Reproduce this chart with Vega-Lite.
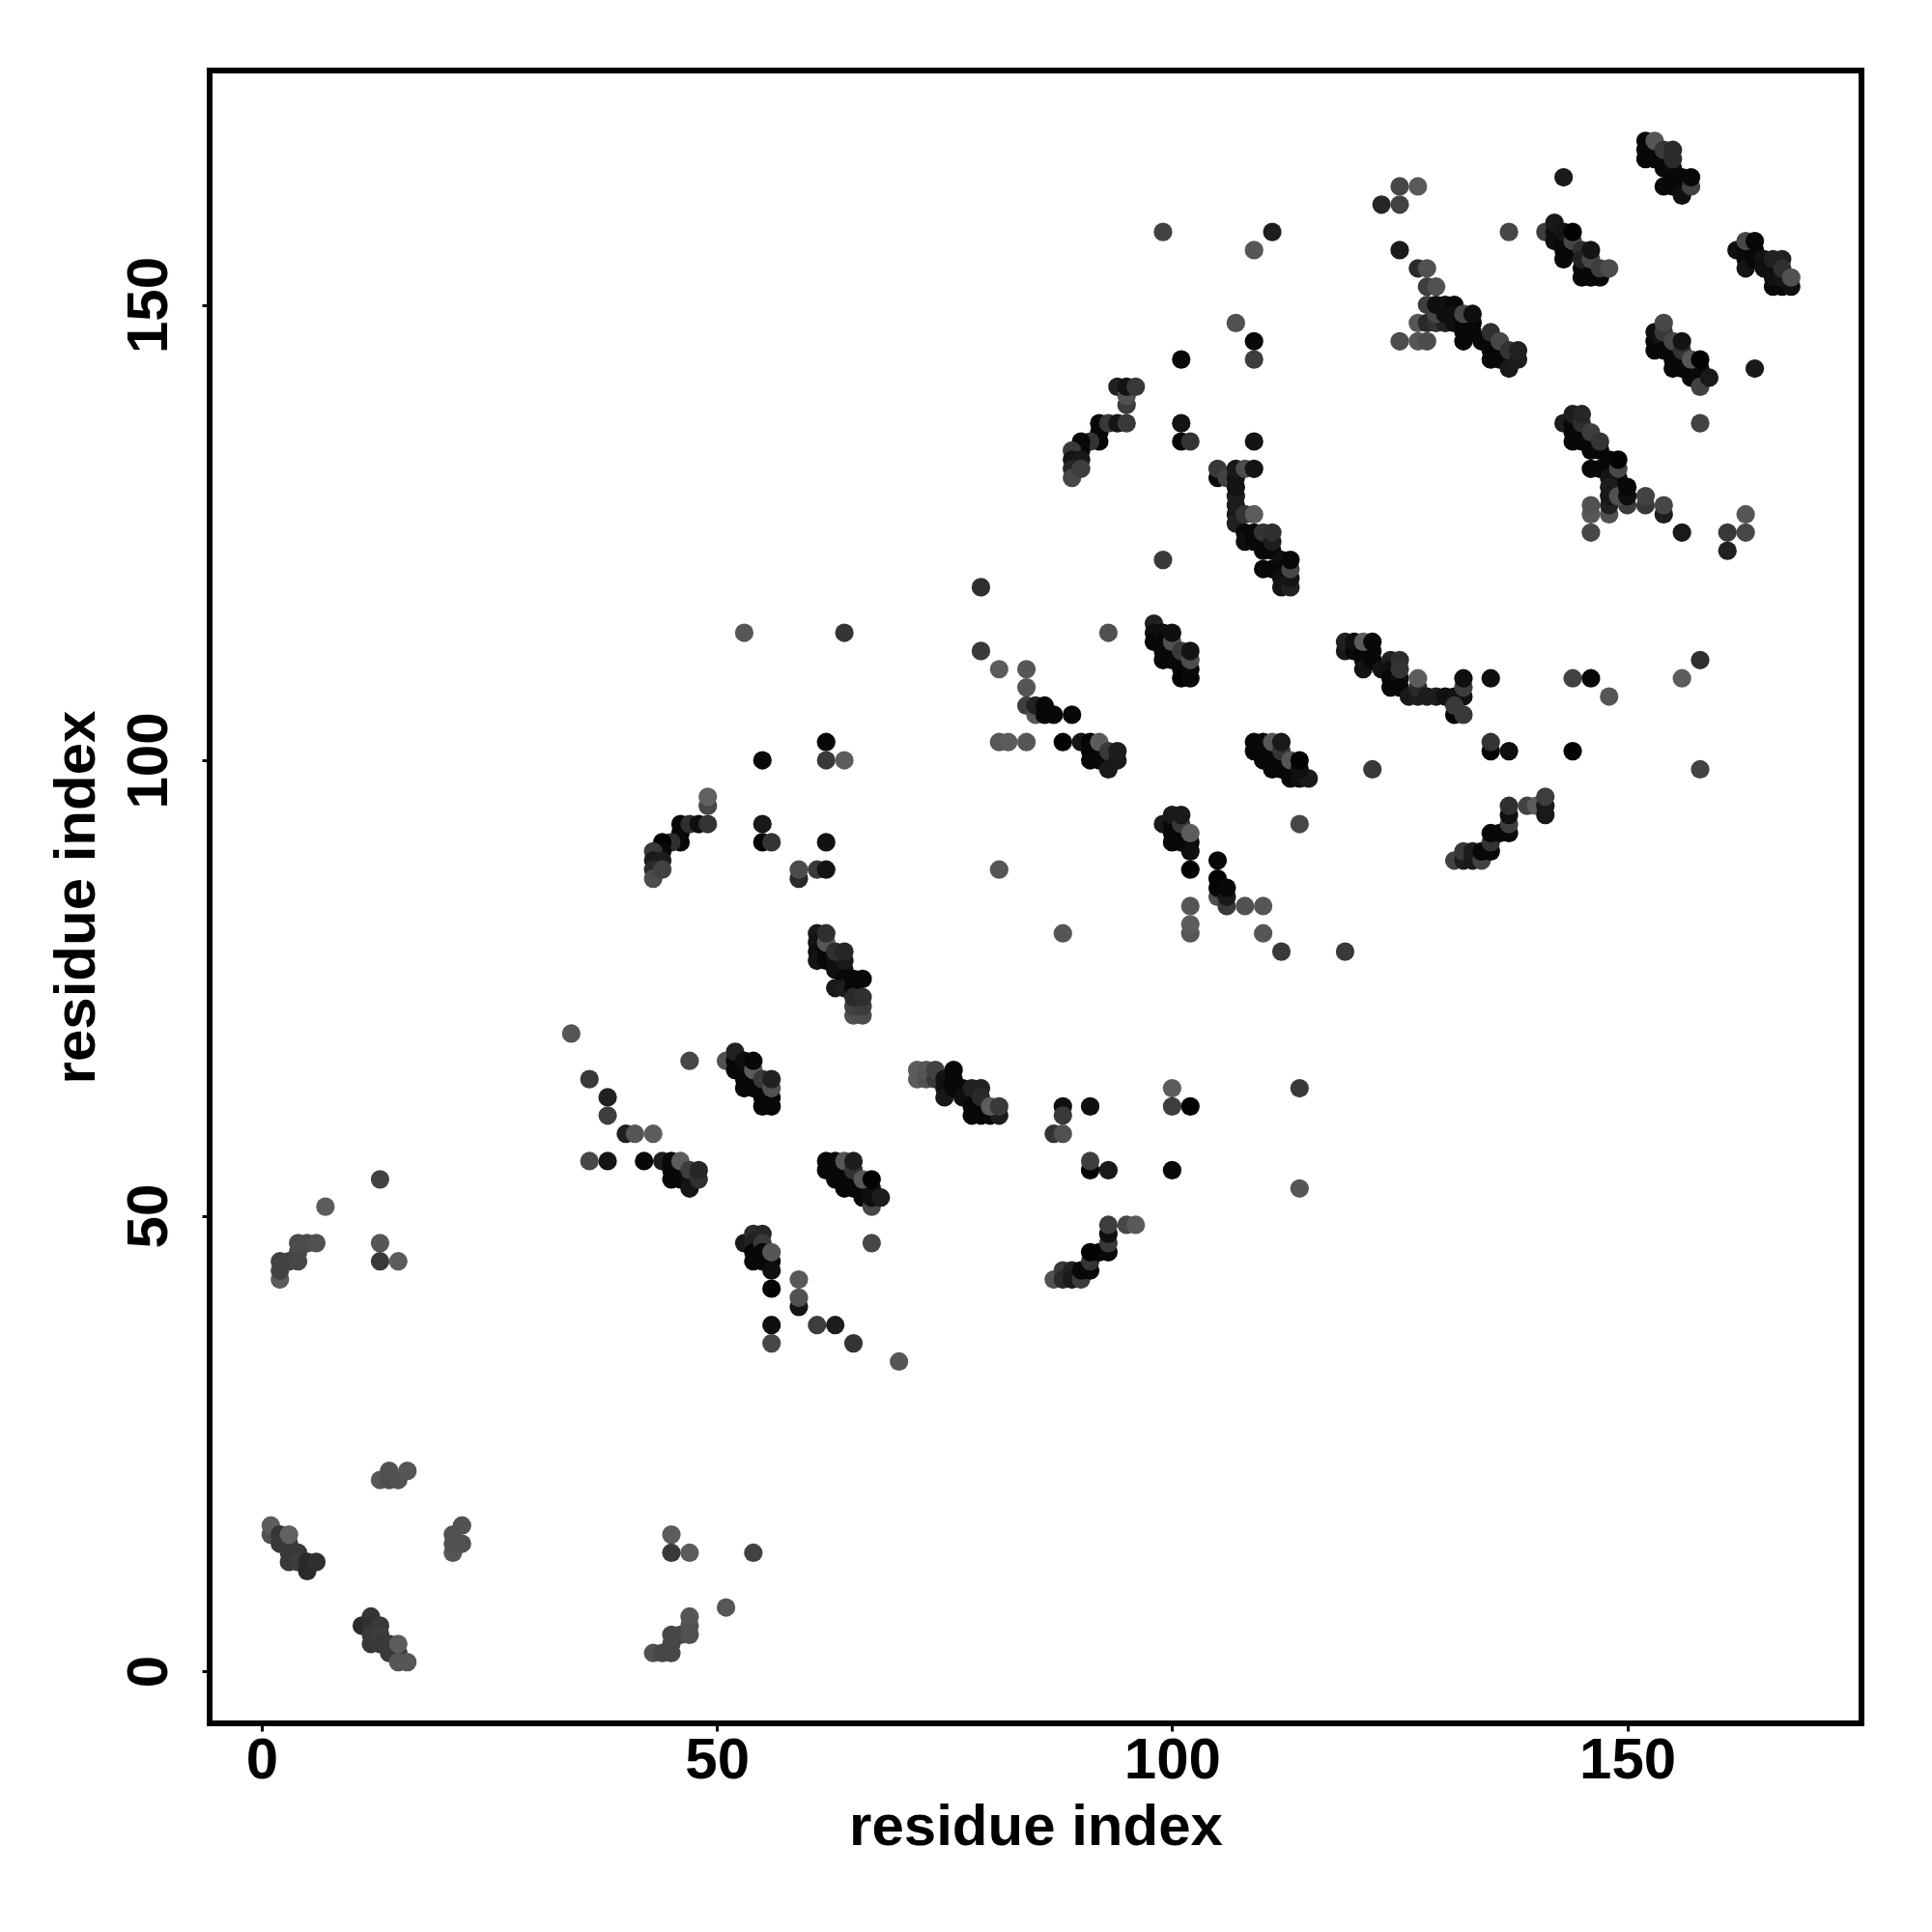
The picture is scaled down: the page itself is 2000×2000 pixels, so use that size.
{"$schema":"https://vega.github.io/schema/vega-lite/v6.json","width":1710,"height":1711,"autosize":{"type":"none"},"padding":{"left":217,"top":73,"right":73,"bottom":216},"background":"white",
"view":{"stroke":"black","strokeWidth":6,"fill":"white"},
"config":{"font":"Liberation Sans"},
"data":{"values":[
{"i":7,"j":51,"p":0.1},{"i":13,"j":54,"p":0.35},{"i":13,"j":47,"p":0.15},{"i":13,"j":45,"p":0.45},{"i":15,"j":45,"p":0.1},
{"i":2,"j":43,"p":0.1},{"i":2,"j":44,"p":0.35},{"i":2,"j":45,"p":0.35},{"i":3,"j":45,"p":0.35},{"i":4,"j":45,"p":0.3},{"i":4,"j":46,"p":0.3},{"i":4,"j":47,"p":0.25},{"i":5,"j":47,"p":0.25},{"i":6,"j":47,"p":0.2},
{"i":13,"j":21,"p":0.15},{"i":14,"j":21,"p":0.25},{"i":15,"j":21,"p":0.2},{"i":14,"j":22,"p":0.2},{"i":16,"j":22,"p":0.15},
{"i":1,"j":15,"p":0.2},{"i":1,"j":16,"p":0.1},{"i":2,"j":15,"p":0.5},{"i":2,"j":14,"p":0.45},{"i":3,"j":14,"p":0.45},{"i":3,"j":13,"p":0.45},{"i":3,"j":12,"p":0.45},{"i":4,"j":13,"p":0.45},{"i":4,"j":12,"p":0.4},{"i":5,"j":12,"p":0.6},{"i":5,"j":11,"p":0.6},{"i":6,"j":12,"p":0.55},{"i":3,"j":15,"p":0.05},
{"i":21,"j":13,"p":0.15},{"i":21,"j":14,"p":0.2},{"i":21,"j":15,"p":0.2},{"i":22,"j":14,"p":0.2},{"i":22,"j":16,"p":0.2},
{"i":45,"j":15,"p":0.1},{"i":45,"j":13,"p":0.45},{"i":47,"j":13,"p":0.1},{"i":54,"j":13,"p":0.35},{"i":51,"j":7,"p":0.15},
{"i":11,"j":5,"p":0.6},{"i":12,"j":6,"p":0.5},{"i":12,"j":5,"p":0.55},{"i":12,"j":4,"p":0.45},{"i":12,"j":3,"p":0.45},{"i":13,"j":5,"p":0.45},{"i":13,"j":4,"p":0.4},{"i":13,"j":3,"p":0.45},{"i":14,"j":3,"p":0.45},{"i":14,"j":2,"p":0.45},{"i":15,"j":2,"p":0.45},{"i":15,"j":1,"p":0.15},{"i":16,"j":1,"p":0.15},{"i":15,"j":3,"p":0.1},
{"i":43,"j":2,"p":0.2},{"i":44,"j":2,"p":0.3},{"i":45,"j":2,"p":0.3},{"i":45,"j":3,"p":0.3},{"i":45,"j":4,"p":0.3},{"i":46,"j":4,"p":0.3},{"i":47,"j":4,"p":0.2},{"i":47,"j":5,"p":0.2},{"i":47,"j":6,"p":0.15},
{"i":34,"j":70,"p":0.15},{"i":36,"j":65,"p":0.45},{"i":38,"j":63,"p":0.7},{"i":38,"j":61,"p":0.4},{"i":40,"j":59,"p":0.7},{"i":41,"j":59,"p":0.15},{"i":43,"j":59,"p":0.1},{"i":47,"j":67,"p":0.3},
{"i":36,"j":56,"p":0.3},{"i":38,"j":56,"p":0.85},{"i":42,"j":56,"p":0.95},{"i":44,"j":56,"p":0.75},{"i":45,"j":56,"p":0.95},{"i":45,"j":55,"p":0.95},{"i":45,"j":54,"p":0.95},{"i":46,"j":55,"p":0.95},{"i":46,"j":54,"p":0.95},{"i":47,"j":54,"p":0.9},{"i":47,"j":53,"p":0.85},{"i":46,"j":56,"p":0.1},{"i":47,"j":55,"p":0.4},{"i":48,"j":54,"p":0.55},{"i":48,"j":55,"p":0.65},
{"i":51,"j":67,"p":0.2},{"i":52,"j":67,"p":0.95},{"i":52,"j":66,"p":0.95},{"i":53,"j":66,"p":0.95},{"i":53,"j":65,"p":0.95},{"i":53,"j":64,"p":0.95},{"i":54,"j":65,"p":0.95},{"i":54,"j":64,"p":0.95},{"i":55,"j":64,"p":0.95},{"i":55,"j":63,"p":0.95},{"i":55,"j":62,"p":0.95},{"i":56,"j":63,"p":0.95},{"i":56,"j":62,"p":0.95},{"i":52,"j":68,"p":0.7},{"i":53,"j":67,"p":0.9},{"i":54,"j":66,"p":0.1},{"i":55,"j":65,"p":0.45},{"i":56,"j":64,"p":0.2},{"i":54,"j":67,"p":0.95},{"i":56,"j":65,"p":0.7},
{"i":72,"j":65,"p":0.1},{"i":72,"j":66,"p":0.1},{"i":73,"j":65,"p":0.2},{"i":73,"j":66,"p":0.15},{"i":74,"j":65,"p":0.45},{"i":74,"j":66,"p":0.35},{"i":75,"j":65,"p":0.85},{"i":75,"j":64,"p":0.9},{"i":75,"j":63,"p":0.8},{"i":76,"j":66,"p":0.95},{"i":76,"j":65,"p":0.95},{"i":76,"j":64,"p":0.95},{"i":77,"j":64,"p":0.95},{"i":77,"j":63,"p":0.9},{"i":78,"j":63,"p":0.9},{"i":78,"j":62,"p":0.95},{"i":78,"j":61,"p":0.95},{"i":79,"j":62,"p":0.95},{"i":79,"j":61,"p":0.95},{"i":80,"j":61,"p":0.95},{"i":78,"j":64,"p":0.7},{"i":79,"j":64,"p":0.7},{"i":79,"j":63,"p":0.6},{"i":81,"j":61,"p":0.75},{"i":80,"j":62,"p":0.1},{"i":81,"j":62,"p":0.45},
{"i":53,"j":47,"p":0.8},{"i":54,"j":48,"p":0.6},{"i":55,"j":48,"p":0.65},{"i":54,"j":47,"p":0.7},{"i":54,"j":46,"p":0.95},{"i":54,"j":45,"p":0.95},{"i":55,"j":47,"p":0.45},{"i":55,"j":46,"p":0.95},{"i":55,"j":45,"p":0.95},{"i":56,"j":45,"p":0.95},{"i":56,"j":44,"p":0.9},{"i":56,"j":46,"p":0.15},{"i":56,"j":42,"p":0.98},
{"i":59,"j":43,"p":0.12},{"i":59,"j":40,"p":0.85},{"i":59,"j":41,"p":0.2},{"i":56,"j":38,"p":0.9},{"i":56,"j":36,"p":0.3},{"i":61,"j":38,"p":0.4},{"i":63,"j":38,"p":0.75},{"i":65,"j":36,"p":0.5},{"i":70,"j":34,"p":0.15},
{"i":62,"j":56,"p":0.95},{"i":63,"j":56,"p":0.95},{"i":62,"j":55,"p":0.95},{"i":63,"j":55,"p":0.95},{"i":63,"j":54,"p":0.95},{"i":64,"j":55,"p":0.95},{"i":64,"j":54,"p":0.95},{"i":64,"j":53,"p":0.95},{"i":65,"j":54,"p":0.95},{"i":65,"j":53,"p":0.95},{"i":66,"j":53,"p":0.95},{"i":66,"j":52,"p":0.95},{"i":67,"j":53,"p":0.9},{"i":67,"j":51,"p":0.3},{"i":67,"j":52,"p":0.9},{"i":64,"j":56,"p":0.15},{"i":65,"j":55,"p":0.5},{"i":65,"j":56,"p":0.75},{"i":66,"j":54,"p":0.15},{"i":67,"j":54,"p":0.98},{"i":68,"j":52,"p":0.75},{"i":67,"j":47,"p":0.3},
{"i":88,"j":62,"p":0.9},{"i":88,"j":61,"p":0.45},{"i":87,"j":59,"p":0.5},{"i":88,"j":59,"p":0.2},{"i":91,"j":62,"p":0.9},{"i":91,"j":55,"p":0.98},{"i":91,"j":56,"p":0.4},{"i":93,"j":55,"p":0.8},{"i":100,"j":55,"p":0.95},{"i":100,"j":64,"p":0.1},{"i":100,"j":62,"p":0.4},{"i":102,"j":62,"p":0.98},{"i":114,"j":64,"p":0.45},{"i":114,"j":53,"p":0.15},
{"i":87,"j":43,"p":0.2},{"i":88,"j":44,"p":0.45},{"i":88,"j":43,"p":0.6},{"i":89,"j":44,"p":0.7},{"i":89,"j":43,"p":0.8},{"i":90,"j":43,"p":0.4},{"i":90,"j":44,"p":0.95},{"i":91,"j":44,"p":0.95},{"i":91,"j":45,"p":0.5},{"i":93,"j":46,"p":0.95},{"i":92,"j":46,"p":0.95},{"i":91,"j":46,"p":0.98},{"i":93,"j":47,"p":0.45},{"i":93,"j":48,"p":0.9},{"i":93,"j":49,"p":0.4},{"i":95,"j":49,"p":0.3},{"i":96,"j":49,"p":0.12},
{"i":55,"j":100,"p":0.95},{"i":62,"j":102,"p":0.95},{"i":62,"j":100,"p":0.45},{"i":64,"j":100,"p":0.1},{"i":81,"j":102,"p":0.15},{"i":82,"j":102,"p":0.1},
{"i":49,"j":95,"p":0.3},{"i":49,"j":96,"p":0.05},{"i":46,"j":91,"p":0.95},{"i":46,"j":92,"p":0.95},{"i":46,"j":93,"p":0.95},{"i":47,"j":93,"p":0.55},{"i":48,"j":93,"p":0.9},{"i":49,"j":93,"p":0.5},{"i":45,"j":91,"p":0.55},{"i":44,"j":91,"p":0.98},{"i":44,"j":90,"p":0.95},{"i":43,"j":90,"p":0.45},{"i":43,"j":89,"p":0.8},{"i":44,"j":89,"p":0.75},{"i":43,"j":88,"p":0.6},{"i":43,"j":87,"p":0.25},{"i":44,"j":88,"p":0.35},
{"i":55,"j":93,"p":0.8},{"i":55,"j":91,"p":0.98},{"i":56,"j":91,"p":0.5},{"i":62,"j":91,"p":0.88},{"i":59,"j":87,"p":0.6},{"i":59,"j":88,"p":0.25},{"i":61,"j":88,"p":0.45},{"i":62,"j":88,"p":0.85},{"i":81,"j":88,"p":0.15},
{"i":61,"j":81,"p":0.8},{"i":61,"j":80,"p":0.85},{"i":61,"j":79,"p":0.9},{"i":61,"j":78,"p":0.85},{"i":62,"j":79,"p":0.95},{"i":62,"j":78,"p":0.95},{"i":63,"j":78,"p":0.9},{"i":63,"j":77,"p":0.9},{"i":64,"j":77,"p":0.9},{"i":64,"j":78,"p":0.8},{"i":64,"j":76,"p":0.95},{"i":63,"j":75,"p":0.8},{"i":64,"j":75,"p":0.75},{"i":65,"j":76,"p":0.95},{"i":65,"j":75,"p":0.95},{"i":66,"j":76,"p":0.95},{"i":65,"j":72,"p":0.2},{"i":66,"j":72,"p":0.25},{"i":65,"j":73,"p":0.35},{"i":66,"j":73,"p":0.4},{"i":65,"j":74,"p":0.6},{"i":66,"j":74,"p":0.55},{"i":62,"j":80,"p":0.15},{"i":62,"j":81,"p":0.55},{"i":63,"j":79,"p":0.55},{"i":64,"j":79,"p":0.65},
{"i":79,"j":112,"p":0.45},{"i":79,"j":119,"p":0.55},{"i":81,"j":110,"p":0.1},{"i":84,"j":110,"p":0.15},{"i":84,"j":108,"p":0.15},{"i":84,"j":106,"p":0.4},{"i":85,"j":105,"p":0.15},{"i":85,"j":106,"p":0.7},{"i":86,"j":106,"p":0.95},{"i":86,"j":105,"p":0.95},{"i":87,"j":105,"p":0.95},{"i":89,"j":105,"p":0.95},{"i":93,"j":114,"p":0.2},{"i":53,"j":114,"p":0.15},{"i":64,"j":114,"p":0.5},
{"i":84,"j":102,"p":0.15},{"i":88,"j":102,"p":0.98},{"i":90,"j":102,"p":0.85},{"i":91,"j":102,"p":0.98},{"i":91,"j":101,"p":0.95},{"i":91,"j":100,"p":0.95},{"i":92,"j":101,"p":0.95},{"i":92,"j":100,"p":0.95},{"i":93,"j":100,"p":0.95},{"i":93,"j":99,"p":0.8},{"i":92,"j":102,"p":0.1},{"i":93,"j":101,"p":0.45},{"i":94,"j":100,"p":0.8},{"i":94,"j":101,"p":0.75},
{"i":98,"j":115,"p":0.7},{"i":98,"j":114,"p":0.9},{"i":98,"j":113,"p":0.95},{"i":99,"j":114,"p":0.9},{"i":99,"j":113,"p":0.95},{"i":99,"j":112,"p":0.95},{"i":99,"j":111,"p":0.95},{"i":100,"j":112,"p":0.95},{"i":100,"j":111,"p":0.95},{"i":101,"j":110,"p":0.95},{"i":101,"j":109,"p":0.98},{"i":102,"j":109,"p":0.95},{"i":102,"j":110,"p":0.95},{"i":100,"j":113,"p":0.2},{"i":101,"j":112,"p":0.45},{"i":102,"j":111,"p":0.25},{"i":100,"j":114,"p":0.9},{"i":102,"j":112,"p":0.85},
{"i":109,"j":102,"p":0.95},{"i":110,"j":102,"p":0.95},{"i":109,"j":101,"p":0.95},{"i":110,"j":101,"p":0.95},{"i":110,"j":100,"p":0.95},{"i":111,"j":101,"p":0.95},{"i":111,"j":100,"p":0.95},{"i":111,"j":99,"p":0.95},{"i":112,"j":100,"p":0.95},{"i":112,"j":99,"p":0.95},{"i":113,"j":99,"p":0.95},{"i":113,"j":98,"p":0.95},{"i":114,"j":98,"p":0.9},{"i":115,"j":98,"p":0.8},{"i":111,"j":102,"p":0.15},{"i":112,"j":101,"p":0.5},{"i":113,"j":100,"p":0.15},{"i":112,"j":102,"p":0.8},{"i":114,"j":99,"p":0.9},{"i":114,"j":100,"p":0.98},{"i":114,"j":93,"p":0.3},
{"i":99,"j":93,"p":0.8},{"i":100,"j":93,"p":0.95},{"i":100,"j":92,"p":0.95},{"i":100,"j":91,"p":0.95},{"i":101,"j":92,"p":0.95},{"i":101,"j":91,"p":0.95},{"i":102,"j":91,"p":0.95},{"i":102,"j":90,"p":0.9},{"i":100,"j":94,"p":0.8},{"i":101,"j":93,"p":0.45},{"i":101,"j":94,"p":0.8},{"i":102,"j":92,"p":0.1},{"i":102,"j":88,"p":0.98},
{"i":105,"j":89,"p":0.95},{"i":105,"j":85,"p":0.2},{"i":105,"j":86,"p":0.95},{"i":105,"j":87,"p":0.98},{"i":106,"j":84,"p":0.45},{"i":106,"j":85,"p":0.8},{"i":106,"j":86,"p":0.95},{"i":108,"j":84,"p":0.2},{"i":110,"j":84,"p":0.15},{"i":102,"j":84,"p":0.15},{"i":102,"j":81,"p":0.15},{"i":102,"j":82,"p":0.1},{"i":110,"j":81,"p":0.15},{"i":112,"j":79,"p":0.45},{"i":119,"j":79,"p":0.45},{"i":88,"j":81,"p":0.15},
{"i":119,"j":112,"p":0.8},{"i":119,"j":113,"p":0.7},{"i":120,"j":112,"p":0.95},{"i":120,"j":113,"p":0.9},{"i":121,"j":111,"p":0.95},{"i":121,"j":110,"p":0.85},{"i":121,"j":112,"p":0.95},{"i":122,"j":111,"p":0.95},{"i":122,"j":112,"p":0.95},{"i":123,"j":110,"p":0.85},{"i":124,"j":111,"p":0.7},{"i":124,"j":110,"p":0.9},{"i":124,"j":109,"p":0.95},{"i":124,"j":108,"p":0.95},{"i":125,"j":109,"p":0.9},{"i":125,"j":108,"p":0.95},{"i":126,"j":107,"p":0.8},{"i":127,"j":107,"p":0.75},{"i":127,"j":108,"p":0.6},{"i":128,"j":107,"p":0.75},{"i":129,"j":107,"p":0.75},{"i":130,"j":107,"p":0.88},{"i":131,"j":107,"p":0.88},{"i":132,"j":107,"p":0.88},{"i":121,"j":113,"p":0.1},{"i":122,"j":113,"p":0.95},{"i":125,"j":111,"p":0.55},{"i":125,"j":110,"p":0.5},{"i":127,"j":109,"p":0.1},{"i":132,"j":108,"p":0.4},{"i":132,"j":109,"p":0.9},{"i":131,"j":105,"p":0.98},{"i":131,"j":106,"p":0.45},{"i":132,"j":105,"p":0.45},
{"i":135,"j":109,"p":0.9},{"i":144,"j":109,"p":0.35},{"i":146,"j":109,"p":0.95},{"i":148,"j":107,"p":0.15},{"i":156,"j":109,"p":0.1},{"i":158,"j":111,"p":0.55},{"i":158,"j":99,"p":0.35},{"i":122,"j":99,"p":0.45},{"i":135,"j":101,"p":0.98},{"i":135,"j":102,"p":0.5},{"i":137,"j":101,"p":0.9},{"i":144,"j":101,"p":0.98},
{"i":131,"j":89,"p":0.35},{"i":132,"j":89,"p":0.75},{"i":132,"j":90,"p":0.45},{"i":133,"j":89,"p":0.8},{"i":133,"j":90,"p":0.75},{"i":134,"j":89,"p":0.35},{"i":134,"j":90,"p":0.95},{"i":135,"j":90,"p":0.95},{"i":135,"j":91,"p":0.5},{"i":135,"j":92,"p":0.95},{"i":136,"j":92,"p":0.95},{"i":137,"j":92,"p":0.95},{"i":137,"j":93,"p":0.4},{"i":137,"j":94,"p":0.9},{"i":137,"j":95,"p":0.55},{"i":139,"j":95,"p":0.35},{"i":140,"j":95,"p":0.1},{"i":141,"j":94,"p":0.8},{"i":141,"j":95,"p":0.8},{"i":141,"j":96,"p":0.4},
{"i":94,"j":141,"p":0.7},{"i":95,"j":139,"p":0.4},{"i":95,"j":140,"p":0.2},{"i":95,"j":141,"p":0.85},{"i":96,"j":141,"p":0.45},{"i":92,"j":135,"p":0.95},{"i":92,"j":136,"p":0.95},{"i":92,"j":137,"p":0.95},{"i":93,"j":137,"p":0.45},{"i":94,"j":137,"p":0.85},{"i":95,"j":137,"p":0.45},{"i":91,"j":135,"p":0.5},{"i":90,"j":135,"p":0.95},{"i":90,"j":134,"p":0.95},{"i":89,"j":134,"p":0.45},{"i":89,"j":133,"p":0.85},{"i":90,"j":133,"p":0.8},{"i":89,"j":132,"p":0.65},{"i":89,"j":131,"p":0.3},{"i":90,"j":132,"p":0.4},
{"i":101,"j":137,"p":0.85},{"i":101,"j":135,"p":0.95},{"i":102,"j":135,"p":0.5},{"i":101,"j":144,"p":0.95},{"i":109,"j":135,"p":0.85},{"i":99,"j":122,"p":0.45},{"i":105,"j":131,"p":0.95},{"i":105,"j":132,"p":0.45},{"i":106,"j":131,"p":0.35},{"i":107,"j":127,"p":0.8},{"i":107,"j":126,"p":0.7},{"i":107,"j":128,"p":0.75},{"i":107,"j":129,"p":0.75},{"i":107,"j":130,"p":0.85},{"i":107,"j":131,"p":0.85},{"i":107,"j":132,"p":0.8},{"i":108,"j":132,"p":0.25},{"i":109,"j":132,"p":0.85},{"i":108,"j":127,"p":0.5},{"i":109,"j":127,"p":0.1},
{"i":108,"j":125,"p":0.95},{"i":108,"j":124,"p":0.9},{"i":109,"j":125,"p":0.95},{"i":109,"j":124,"p":0.95},{"i":110,"j":125,"p":0.5},{"i":110,"j":123,"p":0.95},{"i":110,"j":121,"p":0.95},{"i":111,"j":123,"p":0.95},{"i":111,"j":121,"p":0.95},{"i":112,"j":122,"p":0.9},{"i":112,"j":121,"p":0.95},{"i":112,"j":120,"p":0.9},{"i":112,"j":119,"p":0.85},{"i":113,"j":119,"p":0.7},{"i":113,"j":120,"p":0.85},{"i":111,"j":124,"p":0.75},{"i":111,"j":125,"p":0.55},{"i":113,"j":121,"p":0.3},{"i":113,"j":122,"p":0.95},
{"i":109,"j":146,"p":0.95},{"i":109,"j":144,"p":0.4},{"i":107,"j":148,"p":0.2},{"i":99,"j":158,"p":0.35},{"i":109,"j":156,"p":0.15},{"i":111,"j":158,"p":0.75},
{"i":143,"j":164,"p":0.8},{"i":125,"j":163,"p":0.3},{"i":127,"j":163,"p":0.12},{"i":123,"j":161,"p":0.65},{"i":125,"j":161,"p":0.35},{"i":137,"j":158,"p":0.3},{"i":125,"j":156,"p":0.8},
{"i":127,"j":154,"p":0.6},{"i":128,"j":154,"p":0.2},{"i":128,"j":152,"p":0.4},{"i":129,"j":152,"p":0.2},{"i":128,"j":150,"p":0.4},{"i":127,"j":148,"p":0.15},{"i":128,"j":148,"p":0.6},{"i":125,"j":146,"p":0.25},{"i":127,"j":146,"p":0.15},{"i":128,"j":146,"p":0.25},{"i":129,"j":148,"p":0.5},{"i":130,"j":148,"p":0.7},{"i":129,"j":149,"p":0.3},{"i":129,"j":150,"p":0.9},{"i":130,"j":149,"p":0.9},{"i":130,"j":150,"p":0.9},{"i":131,"j":150,"p":0.95},{"i":131,"j":149,"p":0.9},{"i":131,"j":148,"p":0.9},{"i":132,"j":148,"p":0.95},{"i":132,"j":147,"p":0.95},{"i":132,"j":146,"p":0.95},{"i":133,"j":148,"p":0.95},{"i":133,"j":147,"p":0.95},{"i":134,"j":146,"p":0.95},{"i":135,"j":145,"p":0.95},{"i":135,"j":144,"p":0.95},{"i":136,"j":145,"p":0.95},{"i":136,"j":144,"p":0.95},{"i":137,"j":144,"p":0.95},{"i":137,"j":143,"p":0.8},{"i":132,"j":149,"p":0.3},{"i":133,"j":149,"p":0.9},{"i":135,"j":147,"p":0.55},{"i":136,"j":146,"p":0.3},{"i":137,"j":145,"p":0.5},{"i":138,"j":144,"p":0.75},{"i":138,"j":145,"p":0.7},
{"i":141,"j":158,"p":0.4},{"i":142,"j":158,"p":0.9},{"i":142,"j":157,"p":0.9},{"i":143,"j":157,"p":0.95},{"i":143,"j":156,"p":0.95},{"i":143,"j":155,"p":0.95},{"i":144,"j":156,"p":0.95},{"i":145,"j":154,"p":0.95},{"i":145,"j":153,"p":0.95},{"i":146,"j":153,"p":0.95},{"i":147,"j":153,"p":0.95},{"i":142,"j":159,"p":0.8},{"i":143,"j":158,"p":0.85},{"i":144,"j":157,"p":0.3},{"i":144,"j":158,"p":0.98},{"i":145,"j":156,"p":0.55},{"i":145,"j":155,"p":0.7},{"i":146,"j":155,"p":0.3},{"i":146,"j":156,"p":0.85},{"i":147,"j":154,"p":0.4},{"i":148,"j":154,"p":0.25},
{"i":152,"j":166,"p":0.95},{"i":152,"j":167,"p":0.95},{"i":152,"j":168,"p":0.95},{"i":153,"j":167,"p":0.95},{"i":153,"j":166,"p":0.95},{"i":154,"j":166,"p":0.95},{"i":154,"j":165,"p":0.95},{"i":155,"j":165,"p":0.9},{"i":155,"j":164,"p":0.95},{"i":155,"j":163,"p":0.95},{"i":154,"j":163,"p":0.95},{"i":156,"j":164,"p":0.95},{"i":156,"j":163,"p":0.95},{"i":156,"j":162,"p":0.9},{"i":153,"j":168,"p":0.15},{"i":154,"j":167,"p":0.45},{"i":155,"j":167,"p":0.6},{"i":155,"j":166,"p":0.6},{"i":157,"j":163,"p":0.35},{"i":157,"j":164,"p":0.95},
{"i":162,"j":156,"p":0.9},{"i":163,"j":156,"p":0.95},{"i":163,"j":155,"p":0.95},{"i":163,"j":154,"p":0.85},{"i":164,"j":156,"p":0.95},{"i":164,"j":155,"p":0.95},{"i":165,"j":155,"p":0.85},{"i":165,"j":154,"p":0.9},{"i":166,"j":152,"p":0.95},{"i":167,"j":152,"p":0.95},{"i":168,"j":152,"p":0.9},{"i":166,"j":153,"p":0.9},{"i":167,"j":153,"p":0.85},{"i":163,"j":157,"p":0.3},{"i":164,"j":157,"p":0.95},{"i":166,"j":155,"p":0.7},{"i":167,"j":155,"p":0.7},{"i":167,"j":154,"p":0.55},{"i":168,"j":153,"p":0.2},
{"i":153,"j":145,"p":0.95},{"i":153,"j":146,"p":0.95},{"i":153,"j":147,"p":0.9},{"i":154,"j":146,"p":0.85},{"i":154,"j":145,"p":0.95},{"i":155,"j":145,"p":0.95},{"i":155,"j":144,"p":0.95},{"i":155,"j":143,"p":0.95},{"i":156,"j":144,"p":0.95},{"i":156,"j":143,"p":0.95},{"i":157,"j":143,"p":0.95},{"i":157,"j":142,"p":0.95},{"i":158,"j":143,"p":0.9},{"i":158,"j":142,"p":0.95},{"i":154,"j":147,"p":0.45},{"i":154,"j":148,"p":0.3},{"i":155,"j":146,"p":0.3},{"i":156,"j":145,"p":0.5},{"i":157,"j":144,"p":0.15},{"i":156,"j":146,"p":0.85},{"i":158,"j":141,"p":0.35},{"i":158,"j":144,"p":0.98},{"i":159,"j":142,"p":0.8},{"i":164,"j":143,"p":0.8},
{"i":158,"j":137,"p":0.35},
{"i":143,"j":137,"p":0.75},{"i":144,"j":137,"p":0.95},{"i":144,"j":136,"p":0.95},{"i":144,"j":135,"p":0.95},{"i":145,"j":136,"p":0.95},{"i":145,"j":135,"p":0.95},{"i":146,"j":135,"p":0.95},{"i":146,"j":134,"p":0.95},{"i":146,"j":132,"p":0.95},{"i":147,"j":134,"p":0.95},{"i":147,"j":132,"p":0.95},{"i":148,"j":132,"p":0.95},{"i":149,"j":131,"p":0.95},{"i":148,"j":131,"p":0.85},{"i":148,"j":130,"p":0.75},{"i":144,"j":138,"p":0.75},{"i":145,"j":137,"p":0.55},{"i":145,"j":138,"p":0.65},{"i":146,"j":136,"p":0.4},{"i":147,"j":135,"p":0.5},{"i":148,"j":133,"p":0.95},{"i":149,"j":132,"p":0.3},{"i":149,"j":133,"p":0.98},
{"i":146,"j":127,"p":0.15},{"i":146,"j":128,"p":0.2},{"i":146,"j":125,"p":0.3},{"i":148,"j":127,"p":0.2},{"i":148,"j":128,"p":0.7},{"i":148,"j":129,"p":0.8},{"i":150,"j":128,"p":0.4},{"i":149,"j":129,"p":0.2},{"i":150,"j":129,"p":0.9},{"i":150,"j":130,"p":0.95},{"i":152,"j":128,"p":0.45},{"i":152,"j":129,"p":0.35},{"i":154,"j":127,"p":0.75},{"i":154,"j":128,"p":0.3},{"i":156,"j":125,"p":0.8},{"i":161,"j":123,"p":0.7},{"i":161,"j":125,"p":0.45},{"i":163,"j":125,"p":0.3},{"i":163,"j":127,"p":0.15}
]},
"mark":{"type":"point","shape":"circle","filled":true,"opacity":1,"size":370},
"encoding":{
"x":{"field":"i","type":"quantitative","scale":{"domain":[-5.72,175.72],"nice":false,"zero":false},"axis":{"values":[0,50,100,150],"grid":false,"domain":false,"tickColor":"black","tickWidth":3,"tickSize":8,"labelFont":"Liberation Sans","labelFontWeight":"bold","labelFontSize":60,"labelColor":"black","labelPadding":1,"title":"residue index","titleFont":"Liberation Sans","titleFontWeight":"bold","titleFontSize":60,"titleColor":"black","titlePadding":10}},
"y":{"field":"j","type":"quantitative","scale":{"domain":[-5.72,175.72],"nice":false,"zero":false},"axis":{"values":[0,50,100,150],"grid":false,"domain":false,"tickColor":"black","tickWidth":3,"tickSize":8,"labelFont":"Liberation Sans","labelFontWeight":"bold","labelFontSize":60,"labelColor":"black","labelAngle":-90,"labelAlign":"center","labelBaseline":"bottom","labelPadding":24,"title":"residue index","titleFont":"Liberation Sans","titleFontWeight":"bold","titleFontSize":60,"titleColor":"black","titlePadding":14}},
"color":{"field":"p","type":"quantitative","legend":null,"scale":{"domain":[0,1],"range":["#666666","#000000"]}}
}}
